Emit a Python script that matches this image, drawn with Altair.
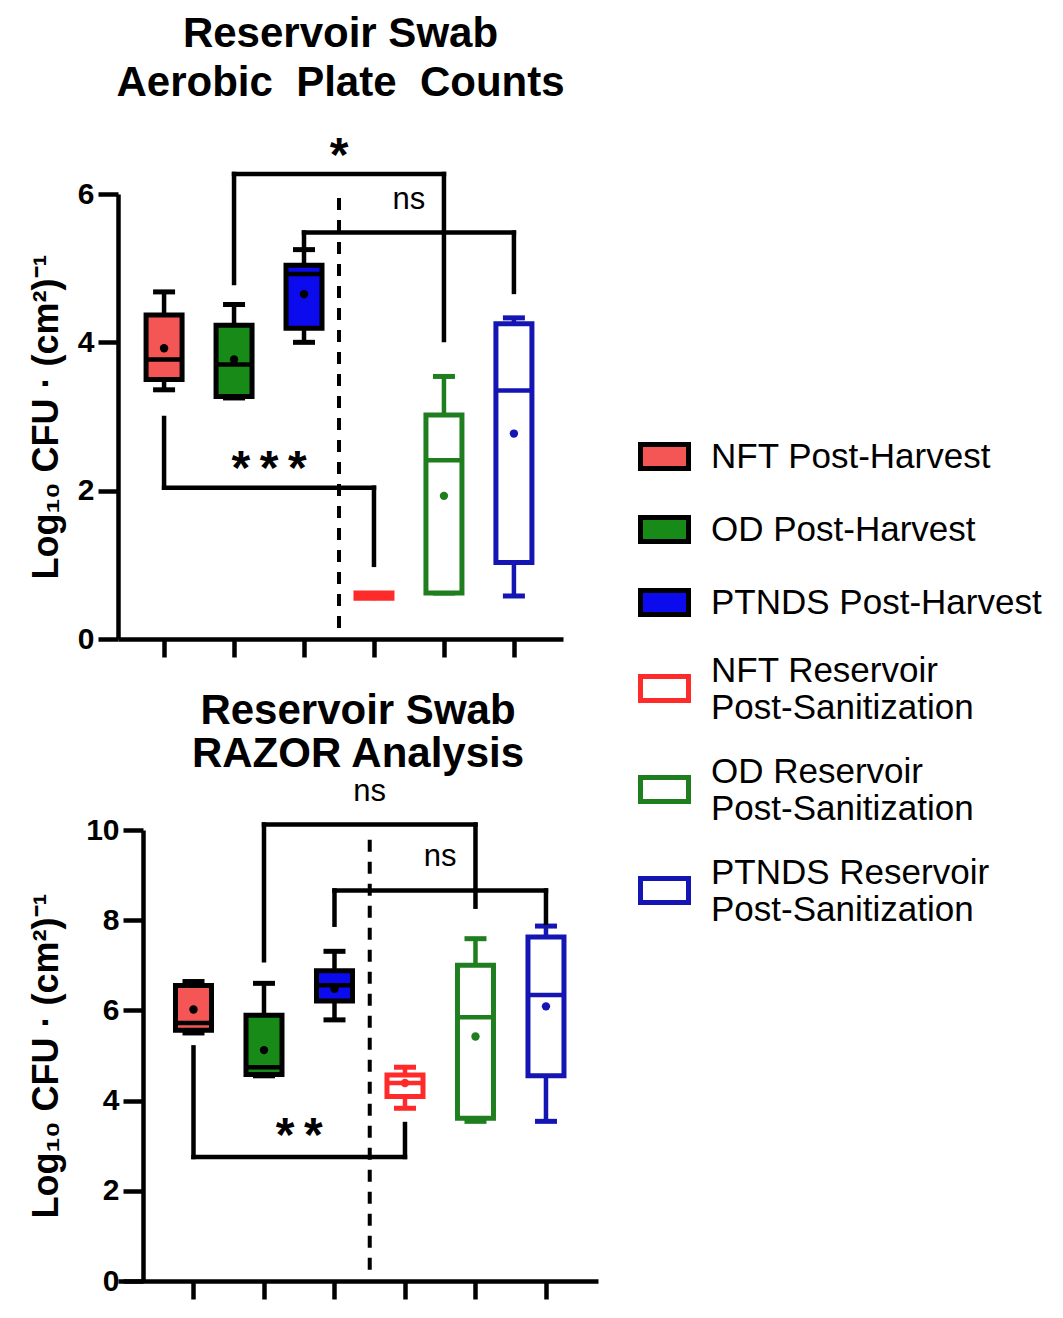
import altair as alt
import pandas as pd

FONT = "Liberation Sans"

categories = [
    "NFT Post-Harvest",
    "OD Post-Harvest",
    "PTNDS Post-Harvest",
    "NFT Reservoir Post-Sanitization",
    "OD Reservoir Post-Sanitization",
    "PTNDS Reservoir Post-Sanitization",
]
fill_colors = ["#F45656", "#178A17", "#0B0BEE", "#FFFFFF", "#FFFFFF", "#FFFFFF"]
line_colors = ["#000000", "#000000", "#000000", "#FF2B2B", "#1F7F1F", "#1515B4"]
# legend key shapes: one-line labels keep the key on the line, two-line labels centre it
ONE_LINE_KEY = "M-2,-1H2V1H-2Z"
TWO_LINE_KEY = "M-2,0.5H2V2.5H-2Z"
legend_shapes = [ONE_LINE_KEY] * 3 + [TWO_LINE_KEY] * 3

# ---- Aerobic Plate Counts (top panel) ----
apc_min = [3.36, 3.25, 4.00, 0.58, 0.62, 0.58]
apc_q1 = [3.50, 3.27, 4.19, 0.55, 0.62, 1.03]
apc_med = [3.77, 3.70, 4.92, 0.58, 2.41, 3.35]
apc_q3 = [4.37, 4.23, 5.04, 0.62, 3.02, 4.25]
apc_max = [4.68, 4.51, 5.25, 0.58, 3.54, 4.33]
apc_mean = [3.92, 3.77, 4.65, 0.58, 1.93, 2.77]

apc_br_left = ["OD Post-Harvest", "PTNDS Post-Harvest", "NFT Post-Harvest"]
apc_br_right = ["OD Reservoir Post-Sanitization", "PTNDS Reservoir Post-Sanitization",
                "NFT Reservoir Post-Sanitization"]
apc_br_yl = [4.80, 5.30, 2.98]
apc_br_ybar = [6.27, 5.48, 2.04]
apc_br_yr = [4.03, 4.68, 1.00]
apc_br_label = ["*", "ns", "*\u2009*\u2009*"]
apc_br_label_y = [6.68, 5.90, 2.45]

# ---- RAZOR Analysis (bottom panel) ----
raz_min = [5.50, 4.55, 5.79, 3.83, 3.54, 3.54]
raz_q1 = [5.56, 4.58, 6.21, 4.09, 3.61, 4.55]
raz_med = [5.72, 4.74, 6.56, 4.39, 5.85, 6.34]
raz_q3 = [6.55, 5.89, 6.88, 4.57, 7.00, 7.63]
raz_max = [6.64, 6.60, 7.31, 4.74, 7.59, 7.87]
raz_mean = [6.02, 5.12, 6.48, 4.39, 5.42, 6.09]

raz_br_left = ["OD Post-Harvest", "PTNDS Post-Harvest", "NFT Post-Harvest"]
raz_br_right = ["OD Reservoir Post-Sanitization", "PTNDS Reservoir Post-Sanitization",
                "NFT Reservoir Post-Sanitization"]
raz_br_yl = [7.11, 7.90, 5.18]
raz_br_ybar = [10.12, 8.66, 2.75]
raz_br_yr = [8.30, 7.94, 3.48]
raz_br_label = ["ns", "ns", "*\u2009*"]
raz_br_label_y = [10.83, 9.39, 3.48]

y_title = "Log\u2081\u2080 CFU \u00b7 (cm\u00b2)\u207b\u00b9"

legend_label_expr = (
    "indexof(datum.label, 'Reservoir') >= 0 ? "
    "[replace(datum.label, ' Post-Sanitization', ''), 'Post-Sanitization'] : datum.label"
)


def make_legend():
    return alt.Legend(
        title=None, labelExpr=legend_label_expr, orient="none",
        legendX=529, legendY=245, direction="vertical", padding=0,
        symbolSize=576, symbolStrokeWidth=5, symbolOpacity=1,
        symbolFillColor="white", symbolStrokeColor="black",
        labelFont=FONT, labelFontSize=35, labelColor="black", labelLimit=600,
        labelOffset=29, rowPadding=28,
    )


def panel(mins, q1s, meds, q3s, maxs, means,
          br_left, br_right, br_yl, br_ybar, br_yr, br_label, br_label_y,
          y_max, y_ticks, divider_bottom, width, height, x_domain,
          title_lines, title_offset, title_line_height, y_title_pad, y_axis_offset):
    idx = {c: i for i, c in enumerate(categories)}
    box_df = pd.DataFrame({
        "category": categories,
        "idx": list(range(len(categories))),
        "lo": mins, "q1": q1s, "med": meds, "q3": q3s, "hi": maxs, "mean": means,
    })
    br_df = pd.DataFrame({
        "xl": [idx[c] for c in br_left],
        "xr": [idx[c] for c in br_right],
        "yl": br_yl, "ybar": br_ybar, "yr": br_yr,
        "label": br_label, "ly": br_label_y,
    })
    br_df["xm"] = (br_df["xl"] + br_df["xr"]) / 2
    star_df = br_df[br_df["label"] != "ns"]
    ns_df = br_df[br_df["label"] == "ns"]
    div_df = pd.DataFrame({
        "x": [(idx["PTNDS Post-Harvest"] + idx["NFT Reservoir Post-Sanitization"]) / 2],
        "y0": [divider_bottom], "y1": [y_max],
    })

    x_scale = alt.Scale(domain=x_domain, nice=False, zero=False)
    y_scale = alt.Scale(domain=[0, y_max], nice=False, zero=True)
    x_axis = alt.Axis(values=list(range(6)), labels=False, title=None, tickSize=18,
                      grid=False, domain=True, ticks=True)
    y_axis = alt.Axis(values=y_ticks, title=y_title, tickSize=20, grid=False,
                      labelPadding=4, titlePadding=y_title_pad, offset=y_axis_offset)

    def X(f):
        return alt.X(f, type="quantitative", scale=x_scale, axis=x_axis)

    def Y(f):
        return alt.Y(f, type="quantitative", scale=y_scale, axis=y_axis)

    col = alt.Color("category:N", scale=alt.Scale(domain=categories, range=line_colors),
                    legend=None)
    fill = alt.Fill("category:N", scale=alt.Scale(domain=categories, range=fill_colors),
                    legend=make_legend())
    stroke = alt.Stroke("category:N", scale=alt.Scale(domain=categories, range=line_colors),
                        legend=make_legend())
    shape = alt.Shape("category:N", scale=alt.Scale(domain=categories, range=legend_shapes),
                      legend=make_legend())

    base = alt.Chart(box_df)
    whisk = base.mark_rule(strokeWidth=4.5).encode(x=X("idx"), y=Y("lo"), y2="hi", color=col)
    cap_lo = base.mark_tick(orient="horizontal", size=22, thickness=5, opacity=1).encode(
        x=X("idx"), y=Y("lo"), color=col)
    cap_hi = base.mark_tick(orient="horizontal", size=22, thickness=5, opacity=1).encode(
        x=X("idx"), y=Y("hi"), color=col)
    box = base.mark_bar(size=36, strokeWidth=5, orient="vertical", opacity=1).encode(
        x=X("idx"), y=Y("q1"), y2="q3", fill=fill, stroke=stroke)
    # legend-key carrier: no rows are drawn, it only supplies the key shapes
    keys = base.transform_filter("false").mark_point(filled=True, opacity=1).encode(
        x=X("idx"), y=Y("q1"), fill=fill, stroke=stroke, shape=shape)
    med = base.mark_tick(orient="horizontal", size=36, thickness=4.5, opacity=1).encode(
        x=X("idx"), y=Y("med"), color=col)
    mean = base.mark_circle(size=70, opacity=1).encode(x=X("idx"), y=Y("mean"), color=col)

    bch = alt.Chart(br_df)
    rule_kw = dict(strokeWidth=4.5, color="black", strokeCap="square")
    leg_l = bch.mark_rule(**rule_kw).encode(x=X("xl"), y=Y("yl"), y2="ybar")
    bar_h = bch.mark_rule(**rule_kw).encode(x=X("xl"), x2="xr", y=Y("ybar"))
    leg_r = bch.mark_rule(**rule_kw).encode(x=X("xr"), y=Y("ybar"), y2="yr")

    stars = alt.Chart(star_df).mark_text(font=FONT, fontSize=48, fontWeight="bold",
                                         color="black", baseline="alphabetic",
                                         dy=27).encode(
        x=X("xm"), y=Y("ly"), text="label:N")
    ns = alt.Chart(ns_df).mark_text(font=FONT, fontSize=31, color="black",
                                    baseline="alphabetic", dy=8).encode(
        x=X("xm"), y=Y("ly"), text="label:N")

    divider = alt.Chart(div_df).mark_rule(strokeWidth=4, strokeDash=[12, 10],
                                          color="black").encode(
        x=X("x"), y=Y("y0"), y2="y1")

    layer = alt.layer(whisk, cap_lo, cap_hi, box, keys, med, mean, divider,
                      leg_l, bar_h, leg_r, stars, ns).properties(
        width=width, height=height,
        title=alt.TitleParams(text=title_lines, offset=title_offset,
                              lineHeight=title_line_height),
    )
    return layer


top = panel(apc_min, apc_q1, apc_med, apc_q3, apc_max, apc_mean,
            apc_br_left, apc_br_right, apc_br_yl, apc_br_ybar, apc_br_yr,
            apc_br_label, apc_br_label_y,
            y_max=6, y_ticks=[0, 2, 4, 6], divider_bottom=0.15,
            width=445, height=445, x_domain=[-0.587, 5.63],
            title_lines=["Reservoir Swab", "Aerobic\u00a0\u00a0Plate\u00a0\u00a0Counts"],
            title_offset=28, title_line_height=49, y_title_pad=12, y_axis_offset=0)

bottom = panel(raz_min, raz_q1, raz_med, raz_q3, raz_max, raz_mean,
               raz_br_left, raz_br_right, raz_br_yl, raz_br_ybar, raz_br_yr,
               raz_br_label, raz_br_label_y,
               y_max=10, y_ticks=[0, 2, 4, 6, 8, 10], divider_bottom=0.25,
               width=480, height=451, x_domain=[-1.0, 5.667],
               title_lines=["Reservoir Swab", "RAZOR Analysis"],
               title_offset=0, title_line_height=43, y_title_pad=20, y_axis_offset=-25)

chart = alt.concat(top, bottom, columns=1, spacing=29).resolve_scale(
    fill="shared", stroke="shared", shape="shared", color="independent"
).resolve_legend(fill="shared", stroke="shared", shape="shared",
                 color="independent").properties(
    padding={"left": 20, "top": 4, "right": 5, "bottom": 5}
).configure_view(stroke=None).configure_axis(
    domainColor="black", domainWidth=4.5, tickColor="black", tickWidth=4.5,
    labelFont=FONT, labelFontSize=30, labelFontWeight="bold", labelColor="black",
    titleFont=FONT, titleFontSize=36, titleFontWeight="bold", titleColor="black",
).configure_title(
    font=FONT, fontSize=42, fontWeight="bold", color="black", anchor="middle",
    lineHeight=49,
)

chart.save("out.html", embed_options={"renderer": "svg", "actions": False})
